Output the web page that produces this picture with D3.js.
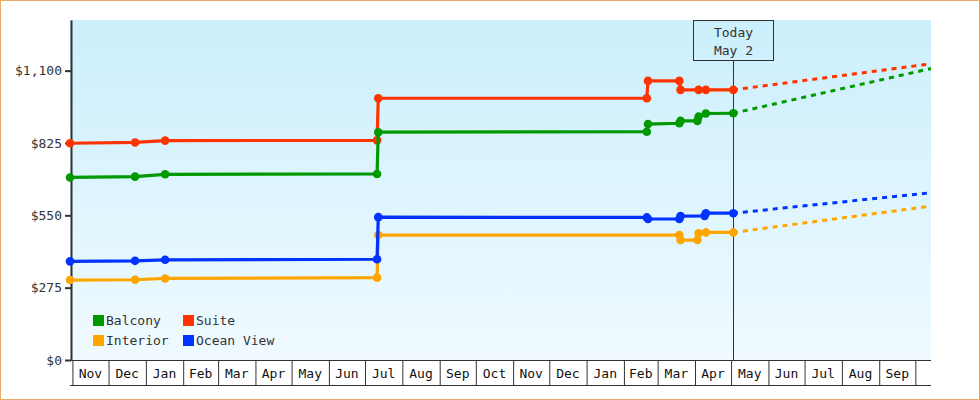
<!DOCTYPE html>
<html>
<head>
<meta charset="utf-8">
<script src="https://cdn.jsdelivr.net/npm/d3@7/dist/d3.min.js"></script>
<style>
  body { margin: 0; background: #fff; }
  text { font-family: "DejaVu Sans Mono", monospace; font-size: 13px; }
</style>
</head>
<body>
<div id="chart"></div>
<script>
// price history per cabin type: [date, price]
var suite = [["2011-10-30",824],["2011-12-23",827],["2012-01-17",834],["2012-07-11",835],["2012-07-12",995],
  ["2013-02-20",995],["2013-02-21",1061],["2013-03-19",1061],["2013-03-20",1027],["2013-04-04",1027],
  ["2013-04-10",1027],["2013-05-02T20:00Z",1027]];
var interior = [["2011-10-30",304],["2011-12-23",305],["2012-01-17",310],["2012-07-11",313],["2012-07-12",475],
  ["2013-03-19",475],["2013-03-20",456],["2013-04-03",456],["2013-04-04",482],["2013-04-10",485],
  ["2013-05-02T20:00Z",485]];
var balcony = [["2011-10-30",694],["2011-12-23",697],["2012-01-17",706],["2012-07-11",707],["2012-07-12",866],
  ["2013-02-20",868],["2013-02-21",897],["2013-03-19",900],["2013-03-20",909],["2013-04-03",909],
  ["2013-04-04",925],["2013-04-10",937],["2013-05-02T20:00Z",938]];
var oceanView = [["2011-10-30",375],["2011-12-23",377],["2012-01-17",381],["2012-07-11",383],["2012-07-12",543],
  ["2013-02-20",542],["2013-02-21",536],["2013-03-19",536],["2013-03-20",547],["2013-04-09",548],
  ["2013-04-10",558],["2013-05-02T20:00Z",558]];

// projected prices (dashed)
var suiteForecast = [["2013-05-02T20:00Z",1027],["2013-10-14",1126]];
var interiorForecast = [["2013-05-02T20:00Z",485],["2013-10-14",585]];
var balconyForecast = [["2013-05-02T20:00Z",938],["2013-10-14",1108]];
var oceanViewForecast = [["2013-05-02T20:00Z",558],["2013-10-14",636]];

var seriesNames = ["Suite", "Interior", "Balcony", "Ocean View"];
var seriesColors = ["#ff3300", "#ffa500", "#009900", "#0033ff"];
var legendOrder = ["Balcony", "Suite", "Interior", "Ocean View"];

var monthTicks = ["2011-11-01","2011-12-01","2012-01-01","2012-02-01","2012-03-01","2012-04-01","2012-05-01",
  "2012-06-01","2012-07-01","2012-08-01","2012-09-01","2012-10-01","2012-11-01","2012-12-01","2013-01-01",
  "2013-02-01","2013-03-01","2013-04-01","2013-05-01","2013-06-01","2013-07-01","2013-08-01","2013-09-01",
  "2013-10-01"];
var yTicks = [0, 275, 550, 825, 1100];
var dateRange = ["2011-10-30", "2013-10-14"];
var today = "2013-05-02T20:00Z";
var todayLabel = ["Today", "May 2"];

(function() {
  var parse = d3.isoParse;
  var toPoints = function(arr) { return arr.map(function(d) { return {date: parse(d[0]), value: d[1]}; }); };

  var prices = [suite, interior, balcony, oceanView].map(toPoints);
  var projected = [suiteForecast, interiorForecast, balconyForecast, oceanViewForecast].map(toPoints);

  var W = 980, H = 400,
      x0 = 70, x1 = 931, y0 = 20, y1 = 360;

  var svg = d3.select("#chart").append("svg")
      .attr("width", W)
      .attr("height", H);

  var x = d3.scaleUtc().domain(dateRange.map(parse)).range([x0, x1]);
  var y = d3.scaleLinear().domain([0, 1292.5]).range([y1, y0]);

  // background
  var grad = svg.append("defs").append("linearGradient")
      .attr("id", "bg").attr("x1", 0).attr("y1", 0).attr("x2", 0).attr("y2", 1);
  grad.append("stop").attr("offset", "0%").attr("stop-color", "#cbeffc");
  grad.append("stop").attr("offset", "100%").attr("stop-color", "#f0faff");

  svg.append("rect")
      .attr("x", 0.5).attr("y", 0.5)
      .attr("width", W - 1).attr("height", H - 1)
      .attr("fill", "#fff")
      .attr("stroke", "#eba866");

  svg.append("rect")
      .attr("x", x0).attr("y", y0)
      .attr("width", x1 - x0).attr("height", y1 - y0)
      .attr("fill", "url(#bg)");

  // x axis: month cells
  var ticks = monthTicks.map(parse);
  var xAxis = svg.append("g")
      .attr("transform", "translate(0," + y1 + ")")
      .call(d3.axisBottom(x).tickValues(ticks).tickSize(25).tickSizeOuter(0).tickFormat(""));
  xAxis.select(".domain").remove();
  xAxis.selectAll(".tick line").attr("stroke", "#333");

  svg.append("line")
      .attr("x1", x0).attr("x2", x1)
      .attr("y1", y1 + 0.5).attr("y2", y1 + 0.5)
      .attr("stroke", "#333");
  svg.append("line")
      .attr("x1", x0).attr("x2", x1)
      .attr("y1", y1 + 25.5).attr("y2", y1 + 25.5)
      .attr("stroke", "#333");

  svg.append("g").selectAll("text")
      .data(ticks.slice(0, -1))
      .enter().append("text")
        .attr("x", function(d, i) { return (x(d) + x(ticks[i + 1])) / 2; })
        .attr("y", y1 + 18)
        .attr("text-anchor", "middle")
        .attr("fill", "#111")
        .text(d3.utcFormat("%b"));

  // y axis
  var yAxis = svg.append("g")
      .attr("transform", "translate(" + (x0 + 1) + ",0)")
      .call(d3.axisLeft(y).tickValues(yTicks).tickSize(6).tickSizeOuter(0).tickFormat(d3.format("$,")));
  yAxis.select(".domain").attr("stroke", "#333").attr("stroke-width", 2);
  yAxis.selectAll(".tick line").attr("stroke", "#333").attr("stroke-width", 2);
  yAxis.selectAll(".tick text")
      .attr("x", -9)
      .attr("fill", "#333")
      .style("font-size", "13px")
      .style("font-family", "'DejaVu Sans Mono', monospace");

  // today marker
  var tx = Math.round(x(parse(today))) + 0.5;
  svg.append("line")
      .attr("x1", tx).attr("x2", tx)
      .attr("y1", y0 + 40).attr("y2", y1)
      .attr("stroke", "#333");
  svg.append("rect")
      .attr("x", tx - 40).attr("y", y0 + 0.5)
      .attr("width", 80).attr("height", 40)
      .attr("fill", "none")
      .attr("stroke", "#333");
  svg.selectAll(".today")
      .data(todayLabel)
      .enter().append("text")
        .attr("class", "today")
        .attr("x", tx)
        .attr("y", function(d, i) { return y0 + 17 + i * 18; })
        .attr("text-anchor", "middle")
        .attr("fill", "#333")
        .text(function(d) { return d; });

  // series
  var line = d3.line()
      .x(function(d) { return x(d.date); })
      .y(function(d) { return y(d.value); });

  prices.forEach(function(pts, i) {
    var g = svg.append("g");
    g.append("path")
        .datum(projected[i])
        .attr("d", line)
        .attr("fill", "none")
        .attr("stroke", seriesColors[i])
        .attr("stroke-width", 3)
        .attr("stroke-dasharray", "5,5")
        .attr("stroke-dashoffset", 0.4);
    g.append("path")
        .datum(pts)
        .attr("d", line)
        .attr("fill", "none")
        .attr("stroke", seriesColors[i])
        .attr("stroke-width", 3.2);
    g.selectAll("circle")
        .data(pts)
        .enter().append("circle")
          .attr("cx", function(d) { return x(d.date); })
          .attr("cy", function(d) { return y(d.value); })
          .attr("r", 4.3)
          .attr("fill", seriesColors[i]);
  });

  // legend
  var legend = svg.append("g").selectAll("g")
      .data(legendOrder)
      .enter().append("g")
        .attr("transform", function(d, i) { return "translate(" + (93 + (i % 2) * 90) + "," + (315 + Math.floor(i / 2) * 20) + ")"; });
  legend.append("rect")
      .attr("width", 11).attr("height", 11)
      .attr("fill", function(d) { return seriesColors[seriesNames.indexOf(d)]; });
  legend.append("text")
      .attr("x", 13)
      .attr("y", 10)
      .attr("fill", "#333")
      .text(function(d) { return d; });
})();
</script>
</body>
</html>
